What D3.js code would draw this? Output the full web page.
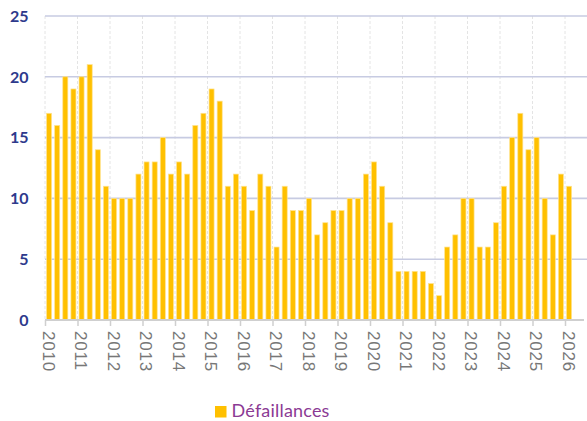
<!DOCTYPE html>
<html lang="fr">
<head>
<meta charset="UTF-8">
<title>Défaillances</title>
<script src="https://d3js.org/d3.v7.min.js"></script>
<style>
    body { margin: 0; background: #fff; }
    svg { display: block; font-family: Lato, "Open Sans", sans-serif; }
    .y-label { fill: #2e3a8c; font-weight: bold; font-size: 16px; }
    .x-label { fill: #777; font-size: 17px; letter-spacing: 0.8px; }
    .legend-text { fill: #8b3a94; font-size: 18px; letter-spacing: 0.2px; }
</style>
</head>
<body>
<div id="chart"></div>
<script>
    // quarterly values, 2010 Q1 -> 2026 Q1
    const values = [
        17, 16, 20, 19,
        20, 21, 14, 11,
        10, 10, 10, 12,
        13, 13, 15, 12,
        13, 12, 16, 17,
        19, 18, 11, 12,
        11, 9, 12, 11,
        6, 11, 9, 9,
        10, 7, 8, 9,
        9, 10, 10, 12,
        13, 11, 8, 4,
        4, 4, 4, 3,
        2, 6, 7, 10,
        10, 6, 6, 8,
        11, 15, 17, 14,
        15, 10, 7, 12,
        11
    ];
    const years = d3.range(2010, 2027);
    const yTicks = [0, 5, 10, 15, 20, 25];
    const seriesName = "Défaillances";

    const width = 587, height = 421;
    const plotLeft = 45, plotTop = 16, plotBottom = 320;
    const yearStep = 32.5;

    const svg = d3.select("#chart").append("svg")
        .attr("width", width)
        .attr("height", height);

    const xTime = d3.scaleLinear()
        .domain([2010, 2026])
        .range([plotLeft, plotLeft + 16 * yearStep]);

    const x = d3.scaleBand()
        .domain(d3.range(values.length))
        .range([plotLeft, plotLeft + values.length * yearStep / 4])
        .paddingInner(0.38)
        .paddingOuter(0.19);

    const y = d3.scaleLinear()
        .domain([0, 25])
        .range([plotBottom, plotTop]);

    // vertical year grid
    svg.append("g")
        .selectAll("line")
        .data(years)
        .enter().append("line")
        .attr("x1", d => xTime(d))
        .attr("x2", d => xTime(d))
        .attr("y1", plotTop)
        .attr("y2", plotBottom)
        .attr("stroke", "#e4e4e4")
        .attr("stroke-width", 1)
        .attr("stroke-dasharray", "3,2");

    // horizontal grid
    svg.append("g")
        .selectAll("line")
        .data(yTicks.filter(d => d > 0))
        .enter().append("line")
        .attr("x1", plotLeft)
        .attr("x2", width)
        .attr("y1", d => y(d))
        .attr("y2", d => y(d))
        .attr("stroke", "#c7cbe2")
        .attr("stroke-width", 1.6);

    // y labels
    svg.append("g")
        .selectAll("text")
        .data(yTicks)
        .enter().append("text")
        .attr("class", "y-label")
        .attr("x", 28.5)
        .attr("y", d => y(d))
        .attr("dy", "0.36em")
        .attr("text-anchor", "end")
        .text(d => d);

    // bars
    svg.append("g")
        .selectAll("rect")
        .data(values)
        .enter().append("rect")
        .attr("x", (d, i) => x(i))
        .attr("y", d => y(d))
        .attr("width", x.bandwidth())
        .attr("height", d => plotBottom - y(d))
        .attr("fill", "#ffc000")
        .attr("stroke", "#ffe38f")
        .attr("stroke-width", 0.7);

    // x axis
    const xAxis = svg.append("g")
        .attr("transform", `translate(0,${plotBottom})`)
        .call(d3.axisBottom(xTime).tickValues(years).tickFormat(d3.format("d")).tickSize(6).tickSizeOuter(0));
    xAxis.select(".domain")
        .attr("d", `M${plotLeft},0H${width - 3}`)
        .attr("stroke", "#cfcfcf")
        .attr("stroke-width", 2);
    xAxis.selectAll(".tick line")
        .attr("stroke", "#cfcfcf")
        .attr("stroke-width", 1.5);
    xAxis.selectAll(".tick text")
        .attr("class", "x-label")
        .attr("transform", "rotate(90)")
        .attr("x", 11)
        .attr("y", 3)
        .attr("dy", 0)
        .attr("text-anchor", "start")
        .attr("fill", null);

    // legend
    const legend = svg.append("g").attr("transform", "translate(215,406)");
    legend.append("rect")
        .attr("width", 11.5)
        .attr("height", 11.5)
        .attr("fill", "#ffc000");
    legend.append("text")
        .attr("class", "legend-text")
        .attr("x", 16.5)
        .attr("y", 11)
        .text(seriesName);
</script>
</body>
</html>
